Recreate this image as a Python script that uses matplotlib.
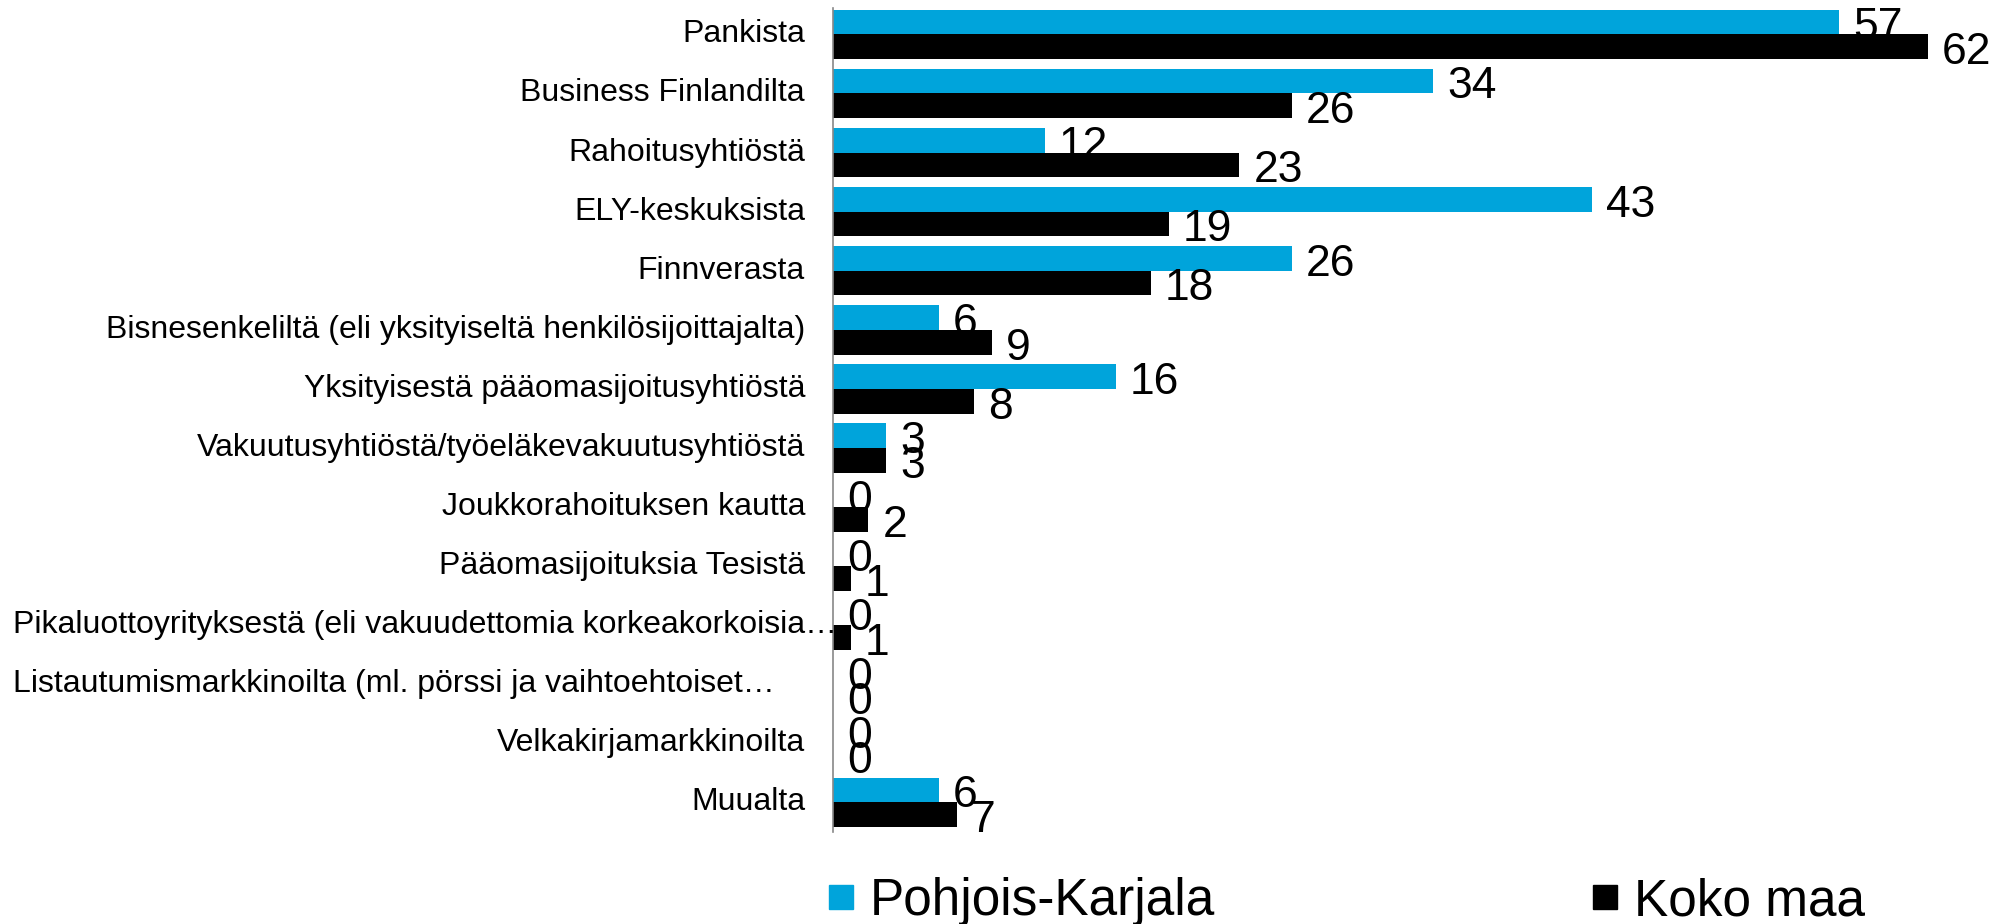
import numpy as np
import matplotlib
matplotlib.use("Agg")
import matplotlib.pyplot as plt
import matplotlib.transforms as mtransforms
from matplotlib.lines import Line2D

plt.rcParams['font.family'] = ['Liberation Sans', 'DejaVu Sans']

categories = [
    "Pankista",
    "Business Finlandilta",
    "Rahoitusyhtiöstä",
    "ELY-keskuksista",
    "Finnverasta",
    "Bisnesenkeliltä (eli yksityiseltä henkilösijoittajalta)",
    "Yksityisestä pääomasijoitusyhtiöstä",
    "Vakuutusyhtiöstä/työeläkevakuutusyhtiöstä",
    "Joukkorahoituksen kautta",
    "Pääomasijoituksia Tesistä",
    "Pikaluottoyrityksestä (eli vakuudettomia korkeakorkoisia…",
    "Listautumismarkkinoilta (ml. pörssi ja vaihtoehtoiset…",
    "Velkakirjamarkkinoilta",
    "Muualta",
]
pohjois_karjala = [57, 34, 12, 43, 26, 6, 16, 3, 0, 0, 0, 0, 0, 6]
koko_maa = [62, 26, 23, 19, 18, 9, 8, 3, 2, 1, 1, 0, 0, 7]
series_names = ["Pohjois-Karjala", "Koko maa"]

blue = "#00a4db"
black = "#000000"

fig = plt.figure(figsize=(19.93, 9.24), dpi=100)
ax = fig.add_axes([0.418, 0.0996, 0.582, 0.892])

y = np.arange(len(categories))
h = 0.42
ax.barh(y - h / 2, pohjois_karjala, height=h, color=blue)
ax.barh(y + h / 2, koko_maa, height=h, color=black)

ax.set_ylim(len(categories) - 0.5, -0.45)
ax.set_xlim(0, 65.7)

for i in range(len(categories)):
    ax.text(pohjois_karjala[i] + 0.8, y[i] - h / 2 + 0.1, str(pohjois_karjala[i]),
            va='center', ha='left', fontsize=32)
    ax.text(koko_maa[i] + 0.8, y[i] + h / 2 + 0.1, str(koko_maa[i]),
            va='center', ha='left', fontsize=32)

# category labels (the long truncated ones start at the left edge)
trans = mtransforms.blended_transform_factory(fig.transFigure, ax.transData)
for i, c in enumerate(categories):
    if c.endswith("…"):
        ax.text(13 / 1993, y[i], c, transform=trans, ha='left', va='center', fontsize=23)
    else:
        ax.text(805 / 1993, y[i], c, transform=trans, ha='right', va='center', fontsize=23)

ax.set_yticks([])
ax.set_xticks([])
for s in ['top', 'right', 'bottom']:
    ax.spines[s].set_visible(False)
ax.spines['left'].set_color('#888888')
ax.spines['left'].set_linewidth(1.2)

handles = [Line2D([], [], marker='s', linestyle='', color=blue, markersize=17),
           Line2D([], [], marker='s', linestyle='', color=black, markersize=17)]
fig.legend(handles, series_names, loc='center', bbox_to_anchor=(0.675, 0.024),
           ncol=2, frameon=False, fontsize=37, handletextpad=0.25,
           columnspacing=7.3, handlelength=0.6)

fig.savefig("out.png", dpi=100)
